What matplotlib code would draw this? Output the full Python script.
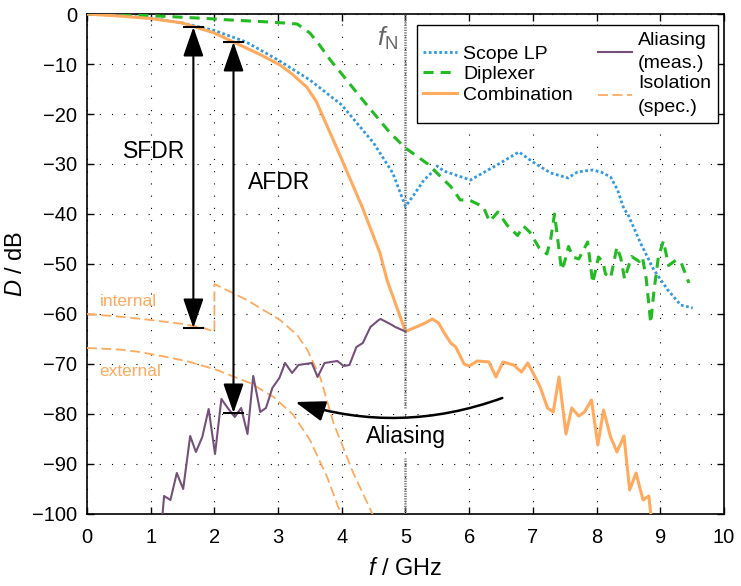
import matplotlib
matplotlib.use('Agg')
import matplotlib.pyplot as plt

plt.rcParams['font.family'] = ['Liberation Sans', 'DejaVu Sans']
plt.rcParams['mathtext.fontset'] = 'custom'
plt.rcParams['mathtext.rm'] = 'Liberation Sans'
plt.rcParams['mathtext.it'] = 'Liberation Sans:italic'

# ── Measured / specified curves (f in GHz, D in dB) ──────────────────────
f_scope = [0, 0.5, 1, 1.5, 2, 2.5, 3, 3.5, 4, 4.5, 4.8, 5.0, 5.13, 5.29, 5.44, 5.5,
           5.6, 6.02, 6.2, 6.49, 6.78, 7.0, 7.28, 7.55, 7.7, 7.94, 8.07, 8.22,
           8.33, 8.43, 8.49, 8.69, 8.9, 9.12, 9.32, 9.51]
d_scope = [0, -0.3, -0.8, -1.8, -3.3, -5.6, -9.2, -13.2, -18.2, -25.8, -31.8, -38.5,
           -36.2, -33.2, -31.4, -30.4, -31.4, -33.2, -31.9, -29.8, -27.6, -29.6,
           -31.8, -32.8, -31.6, -31.2, -31.6, -32.6, -35.2, -39.0, -40.0, -45.8,
           -51.2, -55.2, -58.2, -58.8]

f_dip = [0, 0.94, 1.89, 2.25, 2.72, 3.1, 3.3, 3.5, 3.65, 3.82, 4.0, 4.29, 4.76, 5.0,
         5.35, 5.55, 5.71, 5.86, 6.0, 6.13, 6.22, 6.32, 6.45, 6.6, 6.76, 6.85, 6.95,
         7.1, 7.22, 7.28, 7.34, 7.38, 7.45, 7.5, 7.56, 7.63, 7.72, 7.86, 7.94, 8.03,
         8.1, 8.14, 8.22, 8.32, 8.38, 8.44, 8.55, 8.67, 8.72, 8.78, 8.85, 8.9, 8.97,
         9.05, 9.13, 9.25, 9.33, 9.45]
d_dip = [0, -0.3, -0.9, -1.2, -1.5, -1.8, -2.0, -3.8, -6.2, -9.2, -12.0, -16.6,
         -23.8, -26.8, -30.0, -32.5, -34.5, -37.2, -37.2, -38.0, -38.5, -41.5,
         -39.6, -42.3, -44.3, -42.4, -43.6, -46.8, -48.0, -45.0, -40.0, -44.0,
         -51.2, -49.5, -46.5, -48.6, -49.0, -45.6, -53.8, -48.6, -49.6, -52.0,
         -52.8, -46.6, -48.8, -53.0, -48.5, -49.5, -48.6, -53.0, -61.8, -55.5,
         -48.6, -45.4, -50.3, -49.2, -49.8, -53.8]

f_comb = [0, 0.5, 1, 1.5, 1.7, 2, 2.3, 2.5, 2.75, 3.03, 3.2, 3.45, 3.6, 3.98, 4.32,
          4.6, 4.71, 5.0, 5.24, 5.31, 5.42, 5.52, 5.6, 5.71, 5.79, 5.92, 6.0, 6.13,
          6.31, 6.42, 6.53, 6.7, 6.82, 6.92, 7.02, 7.12, 7.23, 7.32, 7.41, 7.52,
          7.61, 7.72, 7.81, 7.92, 8.02, 8.11, 8.22, 8.32, 8.43, 8.52, 8.62, 8.73,
          8.82, 8.86]
d_comb = [0, -0.4, -0.9, -1.8, -2.6, -3.8, -5.6, -6.8, -8.3, -10.2, -11.8, -14.6,
          -17.5, -28.5, -38.6, -47.8, -53.2, -63.5, -62.2, -61.8, -61.0, -61.8,
          -63.6, -65.8, -66.6, -70.0, -70.4, -69.4, -69.6, -72.6, -69.6, -70.2,
          -71.6, -69.8, -72.2, -74.8, -78.8, -79.6, -72.6, -84.0, -78.8, -80.4,
          -79.6, -77.2, -86.2, -79.2, -84.6, -87.6, -84.4, -95.2, -91.8, -97.2,
          -96.4, -101.0]

f_alias = [1.18, 1.21, 1.31, 1.41, 1.51, 1.62, 1.71, 1.81, 1.91, 2.01, 2.11, 2.21,
           2.32, 2.42, 2.52, 2.61, 2.72, 2.81, 2.91, 3.02, 3.11, 3.22, 3.32, 3.53,
           3.62, 3.73, 3.93, 4.03, 4.12, 4.23, 4.33, 4.45, 4.58, 4.61, 4.76, 4.84, 5.0]
d_alias = [-101.0, -96.4, -97.2, -91.8, -95.0, -84.4, -87.6, -84.6, -79.0, -88.0,
           -77.0, -78.8, -80.6, -78.8, -84.0, -72.4, -79.6, -78.8, -74.8, -72.8,
           -69.8, -71.8, -70.2, -69.8, -72.6, -69.8, -69.4, -70.4, -70.2, -66.6,
           -65.8, -62.6, -61.2, -61.0, -62.0, -62.6, -63.5]

f_iso_int = [0, 0.5, 1, 1.5, 1.8, 2.0, 2.0, 2.51, 3.03, 3.3, 3.46, 3.66, 3.87, 4.18, 4.5]
d_iso_int = [-60.0, -60.5, -61.2, -62.0, -62.7, -63.5, -54.0, -57.2, -61.2, -64.2,
             -67.2, -72.6, -81.8, -91.8, -100.5]

f_iso_ext = [0, 0.5, 0.83, 1.25, 1.62, 2.04, 2.56, 2.93, 3.24, 3.5, 3.77, 4.0]
d_iso_ext = [-66.8, -67.1, -67.6, -68.6, -69.6, -71.2, -73.8, -76.6, -80.2, -85.2,
             -92.6, -100.5]

f_nyq = 5.0
# dynamic range markers: (frequency, top level, bottom level)
sfdr = (1.67, -2.6, -62.8)
afdr = (2.3, -5.6, -79.8)

c_scope = '#3399e0'
c_dip = '#22bb22'
c_orange = '#ffaa5e'
c_alias = '#75507b'

fig = plt.figure(figsize=(7.41, 5.86), dpi=100)
ax = fig.add_axes([0.1174, 0.1229, 0.8596, 0.8532])

ax.plot(f_scope, d_scope, color=c_scope, lw=2.0, ls=(0, (1, 0.9)),
        label='Scope LP', zorder=4)
ax.plot(f_dip, d_dip, color=c_dip, lw=2.2, ls=(0, (3.3, 2.3)),
        label='Diplexer', zorder=4)
ax.plot(f_comb, d_comb, color=c_orange, lw=2.2, label='Combination', zorder=4)
ax.plot(f_alias, d_alias, color=c_alias, lw=1.5, label='Aliasing\n(meas.)', zorder=4)
ax.plot(f_iso_int, d_iso_int, color=c_orange, lw=1.3, ls=(0, (5.5, 2.5)),
        label='Isolation\n(spec.)', zorder=3)
ax.plot(f_iso_ext, d_iso_ext, color=c_orange, lw=1.3, ls=(0, (5.5, 2.5)), zorder=3)

ax.text(0.2, -57.6, 'internal', color=c_orange, fontsize=12.5, va='center')
ax.text(0.2, -71.6, 'external', color=c_orange, fontsize=12.5, va='center')

# Nyquist frequency marker, interrupted around the "Aliasing" label
ax.vlines(f_nyq, -78.8, 0, colors='#777777', lw=1.8, linestyles=[(0, (0.5, 0.5))], zorder=5)
ax.vlines(f_nyq, -100, -88.8, colors='#777777', lw=1.8, linestyles=[(0, (0.5, 0.5))], zorder=5)
ax.text(4.72, -4.8, r'$f_\mathrm{N}$', color='#666666', fontsize=19, ha='center', va='center')

# SFDR / AFDR double arrows with level ticks
head = '<|-|>,head_length=1.3,head_width=0.45'
for f0, top, bot in (sfdr, afdr):
    ax.annotate('', xy=(f0, top), xytext=(f0, bot),
                arrowprops=dict(arrowstyle=head, color='k', lw=1.5,
                                mutation_scale=14, shrinkA=0, shrinkB=0), zorder=6)
    ax.plot([f0 - 0.15, f0 + 0.15], [top, top], color='k', lw=1.5, zorder=6)
    ax.plot([f0 - 0.15, f0 + 0.15], [bot, bot], color='k', lw=1.5, zorder=6)
ax.text(1.05, -27.6, 'SFDR', fontsize=16.5, ha='center', va='center')
ax.text(3.02, -33.8, 'AFDR', fontsize=16.5, ha='center', va='center')

# folding of the upper band back below f_N
ax.annotate('', xy=(3.27, -77.6), xytext=(6.52, -76.8),
            arrowprops=dict(arrowstyle='-|>,head_length=1.3,head_width=0.45',
                            color='k', lw=1.8, mutation_scale=14, shrinkA=0, shrinkB=0,
                            connectionstyle='arc3,rad=-0.17'), zorder=6)
ax.text(5.0, -84.6, 'Aliasing', fontsize=16.5, ha='center', va='center')

ax.set_xlim(0, 10)
ax.set_ylim(-100, 0)
ax.set_xticks(range(0, 11))
ax.set_yticks(range(-100, 1, 10))
ax.tick_params(direction='in', top=True, right=True, labelsize=14.5, length=5, width=1)
ax.tick_params(axis='x', pad=10)
ax.tick_params(axis='y', pad=7)
for s in ax.spines.values():
    s.set_linewidth(1.2)
ax.grid(True, color='k', lw=0.8, ls=(0, (1, 10)))
ax.set_axisbelow(True)
ax.set_xlabel(r'$f$ / GHz', fontsize=17, labelpad=8)
ax.set_ylabel(r'$D$ / dB', fontsize=17, labelpad=4)

leg = ax.legend(loc='upper right', bbox_to_anchor=(0.9906, 0.978), borderaxespad=0,
                ncol=2, fontsize=14, fancybox=False, framealpha=1, edgecolor='k',
                handlelength=1.75, handletextpad=0.3, labelspacing=0.15,
                columnspacing=1.3, borderpad=0.35)
leg.get_frame().set_linewidth(1.0)
for t in leg.get_texts():
    t.set_multialignment('left')
    t.set_linespacing(1.5)

fig.savefig('out.png', dpi=100)
